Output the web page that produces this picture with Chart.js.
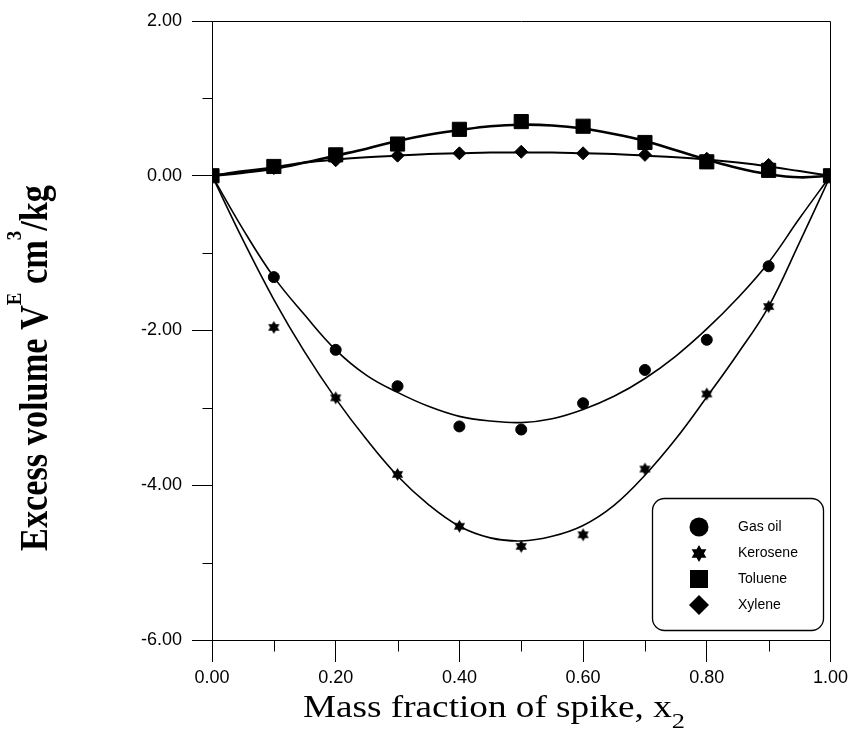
<!DOCTYPE html>
<html>
<head>
<meta charset="utf-8">
<script src="https://cdn.jsdelivr.net/npm/chart.js@4.4.0/dist/chart.umd.min.js"></script>
<style>
  body { margin: 0; background: #fff; }
</style>
</head>
<body>
<canvas id="chart" width="853" height="733"></canvas>
<script>
// measured points
const xData = [0, 0.1, 0.2, 0.3, 0.4, 0.5, 0.6, 0.7, 0.8, 0.9, 1.0];
const gasOil = [0, -1.31, -2.25, -2.72, -3.24, -3.28, -2.94, -2.51, -2.12, -1.17, 0];
const kerosene = [0, -1.96, -2.87, -3.86, -4.53, -4.79, -4.64, -3.79, -2.82, -1.69, 0];
const toluene = [0, 0.12, 0.27, 0.41, 0.60, 0.70, 0.64, 0.43, 0.18, 0.07, 0];
const xylene = [0, 0.10, 0.20, 0.26, 0.29, 0.31, 0.29, 0.27, 0.22, 0.14, 0];

// fitted curves
const xFit = [0, 0.05, 0.1, 0.15, 0.2, 0.25, 0.3, 0.35, 0.4, 0.45, 0.5, 0.55, 0.6, 0.65, 0.7, 0.75, 0.8, 0.85, 0.9, 0.95, 1.0];
const gasOilFit = [0, -0.69, -1.31, -1.80, -2.25, -2.58, -2.80, -2.98, -3.11, -3.17, -3.19, -3.14, -3.02, -2.85, -2.62, -2.33, -1.98, -1.58, -1.12, -0.55, 0];
const keroseneFit = [0, -0.83, -1.60, -2.28, -2.88, -3.41, -3.88, -4.25, -4.53, -4.68, -4.72, -4.66, -4.52, -4.26, -3.87, -3.40, -2.86, -2.30, -1.69, -0.86, 0];
const tolueneFit = [0, 0.04, 0.09, 0.17, 0.26, 0.35, 0.45, 0.53, 0.59, 0.64, 0.66, 0.65, 0.61, 0.54, 0.45, 0.33, 0.21, 0.10, 0.02, -0.02, 0];
const xyleneFit = [0, 0.06, 0.11, 0.17, 0.21, 0.24, 0.26, 0.28, 0.29, 0.30, 0.30, 0.30, 0.29, 0.28, 0.26, 0.24, 0.21, 0.17, 0.12, 0.06, 0];

const seriesNames = ['Gas oil', 'Kerosene', 'Toluene', 'Xylene'];

const xTickValues = [0, 0.2, 0.4, 0.6, 0.8, 1.0];
const xTickLabels = ['0.00', '0.20', '0.40', '0.60', '0.80', '1.00'];
const xMinorTicks = [0.1, 0.3, 0.5, 0.7, 0.9];
const yTickValues = [2, 0, -2, -4, -6];
const yTickLabels = ['2.00', '0.00', '-2.00', '-4.00', '-6.00'];
const yMinorTicks = [1, -1, -3, -5];

function pts(xs, ys) {
	return xs.map((x, i) => ({ x: x, y: ys[i] }));
}

// filled six pointed star
function hexagram(g, cx, cy, r) {
	g.beginPath();
	for (let t = 0; t < 2; t++) {
		const off = t ? Math.PI / 2 : -Math.PI / 2;
		for (let k = 0; k < 3; k++) {
			const a = off + k * 2 * Math.PI / 3;
			const px = cx + r * Math.cos(a), py = cy + r * Math.sin(a);
			if (k) g.lineTo(px, py); else g.moveTo(px, py);
		}
		g.closePath();
	}
	g.fill();
}
function makeStar(r) {
	const c = document.createElement('canvas');
	const s = Math.ceil(r * 2 + 2);
	c.width = s; c.height = s;
	const g = c.getContext('2d');
	g.fillStyle = '#000';
	hexagram(g, s / 2, s / 2, r);
	return c;
}
const starImg = makeStar(6.5);

function richWidth(c, parts) {
	let w = 0;
	parts.forEach(p => { c.font = p.font; w += c.measureText(p.t).width; });
	return w;
}
function drawRich(c, parts) {
	let x = 0;
	parts.forEach(p => {
		c.font = p.font;
		c.fillText(p.t, x, p.dy || 0);
		x += c.measureText(p.t).width;
	});
}

const serifB = 'bold 40px "Liberation Serif"';
const serifBs = 'bold 22px "Liberation Serif"';
const yTitle = [
	{ t: 'Excess volume V', font: serifB },
	{ t: 'E', font: serifBs, dy: -26 },
	{ t: ' cm', font: serifB },
	{ t: '3', font: serifBs, dy: -26 },
	{ t: '/kg', font: serifB }
];
const xTitle = [
	{ t: 'Mass fraction of spike, x', font: '31px "Liberation Serif"' },
	{ t: '2', font: '22px "Liberation Serif"', dy: 11 }
];

const framePlugin = {
	id: 'frame',
	afterDraw(chart) {
		const c = chart.ctx;
		const a = chart.chartArea;
		const xs = chart.scales.x, ys = chart.scales.y;
		const top = Math.round(a.top) + 0.5, right = Math.round(a.right) + 0.5;
		const bottom = Math.round(a.bottom) + 0.5, left = Math.round(a.left) + 0.5;
		c.save();
		c.strokeStyle = '#000';
		c.lineWidth = 1;
		c.beginPath();
		c.moveTo(left, top); c.lineTo(right, top);
		c.moveTo(right, top); c.lineTo(right, bottom);
		xMinorTicks.forEach(v => {
			const px = Math.round(xs.getPixelForValue(v)) + 0.5;
			c.moveTo(px, bottom); c.lineTo(px, bottom + 11);
		});
		yMinorTicks.forEach(v => {
			const py = Math.round(ys.getPixelForValue(v)) + 0.5;
			c.moveTo(left - 10, py); c.lineTo(left, py);
		});
		c.stroke();

		// legend box
		const bx = 652, by = 498, bw = 171, bh = 132, r = 12;
		c.beginPath();
		c.roundRect(bx + 0.5, by + 0.5, bw, bh, r);
		c.lineWidth = 1.3;
		c.stroke();
		c.fillStyle = '#000';
		const mx = 699, rows = [527, 553, 579, 605];
		c.beginPath(); c.arc(mx, rows[0], 9.5, 0, Math.PI * 2); c.fill();
		hexagram(c, mx, rows[1] + 0.5, 8.5);
		c.fillRect(mx - 9, rows[2] - 9, 18, 18);
		c.beginPath();
		c.moveTo(mx, rows[3] - 10); c.lineTo(mx + 10, rows[3]);
		c.lineTo(mx, rows[3] + 10); c.lineTo(mx - 10, rows[3]);
		c.closePath(); c.fill();
		c.font = '14px "Liberation Sans"';
		c.textBaseline = 'middle';
		c.textAlign = 'left';
		seriesNames.forEach((n, i) => c.fillText(n, 738, rows[i]));

		// axis titles
		c.textBaseline = 'alphabetic';
		c.save();
		c.translate(47, 551);
		c.rotate(-Math.PI / 2);
		c.scale(366 / richWidth(c, yTitle), 1);
		drawRich(c, yTitle);
		c.restore();

		c.save();
		c.translate(303, 717);
		c.scale(382 / richWidth(c, xTitle), 1);
		drawRich(c, xTitle);
		c.restore();
		c.restore();
	}
};

const lineStyle = (data, w) => ({
	data: data, showLine: true, pointRadius: 0, borderColor: '#000',
	backgroundColor: '#000', borderWidth: w, tension: 0.4, order: 1
});
const markStyle = (label, data, style, radius) => ({
	label: label, data: data, showLine: false, pointStyle: style, pointRadius: radius,
	backgroundColor: '#000', borderColor: '#000', borderWidth: 1, order: 0
});

let myChart = new Chart(document.getElementById('chart').getContext('2d'), {
	type: 'scatter',
	data: {
		datasets: [
			markStyle(seriesNames[0], pts(xData, gasOil), 'circle', 5.5),
			markStyle(seriesNames[1], pts(xData, kerosene), starImg, 6),
			markStyle(seriesNames[2], pts(xData, toluene), 'rect', 10),
			markStyle(seriesNames[3], pts(xData, xylene), 'rectRot', 6.5),
			lineStyle(pts(xFit, gasOilFit), 1.6),
			lineStyle(pts(xFit, keroseneFit), 1.6),
			lineStyle(pts(xFit, tolueneFit), 2.6),
			lineStyle(pts(xFit, xyleneFit), 2)
		]
	},
	options: {
		responsive: false,
		animation: false,
		events: [],
		layout: { padding: { top: 21, right: 20, left: 0, bottom: 0 } },
		plugins: { legend: { display: false }, tooltip: { enabled: false } },
		scales: {
			x: {
				type: 'linear', min: 0, max: 1,
				afterBuildTicks: s => { s.ticks = xTickValues.map(v => ({ value: v })); },
				afterFit: s => { s.height = 93; },
				ticks: {
					callback: (v, i) => xTickLabels[i],
					font: { family: 'Liberation Sans', size: 18 },
					color: '#000', padding: 5, maxRotation: 0, autoSkip: false
				},
				grid: { drawOnChartArea: false, drawTicks: true, tickLength: 22, color: '#000', lineWidth: 1 },
				border: { display: true, color: '#000', width: 1 }
			},
			y: {
				type: 'linear', min: -6, max: 2,
				afterBuildTicks: s => { s.ticks = yTickValues.map(v => ({ value: v })); },
				afterFit: s => { s.width = 212; },
				ticks: {
					callback: (v, i) => yTickLabels[i],
					font: { family: 'Liberation Sans', size: 18 },
					color: '#000', padding: 10, autoSkip: false
				},
				grid: { drawOnChartArea: false, drawTicks: true, tickLength: 20, color: '#000', lineWidth: 1 },
				border: { display: true, color: '#000', width: 1 }
			}
		}
	},
	plugins: [framePlugin]
});
</script>
</body>
</html>
